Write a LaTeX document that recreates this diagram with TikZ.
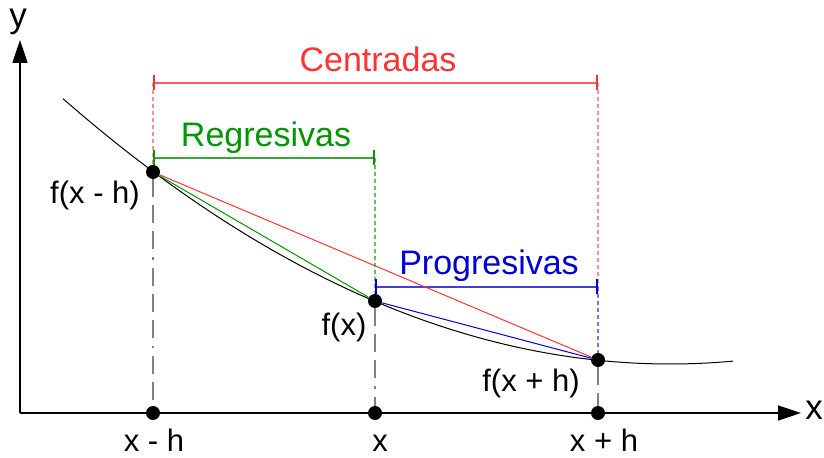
\documentclass[tikz,border=0pt]{standalone}
\usepackage{fontspec}
\setmainfont{Liberation Sans}
\usetikzlibrary{arrows.meta}
\definecolor{cred}{RGB}{255,51,51}
\definecolor{cgreen}{RGB}{0,150,0}
\definecolor{cblue}{RGB}{0,0,210}
\tikzset{
  axis/.style={line width=0.75pt,-{Triangle[length=11.5pt,width=7.5pt]}},
  pt/.style={circle,fill=black,minimum size=7pt,inner sep=0pt},
  guide/.style={gray,line width=0.8pt,
    dash pattern=on 9pt off 4pt on 9pt off 4pt on 9pt off 4pt on 1.2pt off 4pt},
  ext/.style={line width=0.75pt,dash pattern=on 2pt off 1.5pt},
  secant/.style={line width=0.5pt},
  brk/.style={line width=0.6pt,{Bar[width=7.5pt,line width=1pt,color=#1]}-{Bar[width=7.5pt,line width=1pt,color=#1]}},
  blabel/.style={font=\fontsize{17}{20}\selectfont,anchor=base},
  plabel/.style={font=\fontsize{15.5}{18}\selectfont,anchor=base},
}

\begin{document}
\begin{tikzpicture}[x=0.5pt,y=-0.5pt]
  \useasboundingbox (0,0) rectangle (824,458);
  % axes
  \coordinate (O) at (20,413);
  \coordinate (xend) at (801,413);
  \coordinate (yend) at (20,40);
  \draw[axis] (O) -- (xend);
  \draw[axis] (O) -- (yend);
  \node[font=\fontsize{17.5}{20}\selectfont,anchor=base] (ylab) at (18,28) {y};
  \node[font=\fontsize{17.5}{20}\selectfont,anchor=base] (xlab) at (814,420) {x};

  % curve
  \draw[line width=0.5pt] plot[domain=63:733,samples=80] (\x,{364-7.2*((\x-670)/100)^2});

  % points on the curve and on the axis
  \node[pt] (fA) at (153,172) {};
  \node[pt] (fB) at (375,301) {};
  \node[pt] (fC) at (598,360) {};
  \node[pt] (xA) at (153,413) {};
  \node[pt] (xB) at (375,413) {};
  \node[pt] (xC) at (598,413) {};
  \draw[guide] (fA) -- (xA);
  \draw[guide] (fB) -- (xB);
  \draw[guide] (fC) -- (xC);

  % brackets
  \coordinate (cL) at (153,83);  \coordinate (cR) at (598,83);
  \coordinate (rL) at (153,158); \coordinate (rR) at (375,158);
  \coordinate (pL) at (375,287); \coordinate (pR) at (598,287);
  \draw[ext,cred!55] (cL) -- (fA);
  \draw[ext,cred!55] (cR) -- (pR);
  \draw[ext,cgreen!60] (rR) -- (fB);
  \draw[ext,cblue!55] (pR) -- (fC);
  \draw[brk=cred,cred!80] (cL) -- (cR);
  \draw[brk=cgreen,cgreen!80] (rL) -- (rR);
  \draw[brk=cblue,cblue!75] (pL) -- (pR);
  \node[blabel,text=cred] (lcen) at (378,72) {Centradas};
  \node[blabel,text=cgreen] (lreg) at (266,147) {Regresivas};
  \node[blabel,text=cblue] (lpro) at (489,275) {Progresivas};

  % secants
  \draw[secant,cred] (fA) -- (fC);
  \draw[secant,cgreen] (fA) -- (fB);
  \draw[secant,cblue] (fB) -- (fC);

  % labels
  \node[plabel] (lfA) at (95,204) {f(x - h)};
  \node[plabel] (lfB) at (344,336) {f(x)};
  \node[plabel] (lfC) at (531,392) {f(x + h)};
  \node[plabel] (lxA) at (154,452) {x - h};
  \node[plabel] (lxB) at (380,452) {x};
  \node[plabel] (lxC) at (604,452) {x + h};
\end{tikzpicture}
\end{document}
